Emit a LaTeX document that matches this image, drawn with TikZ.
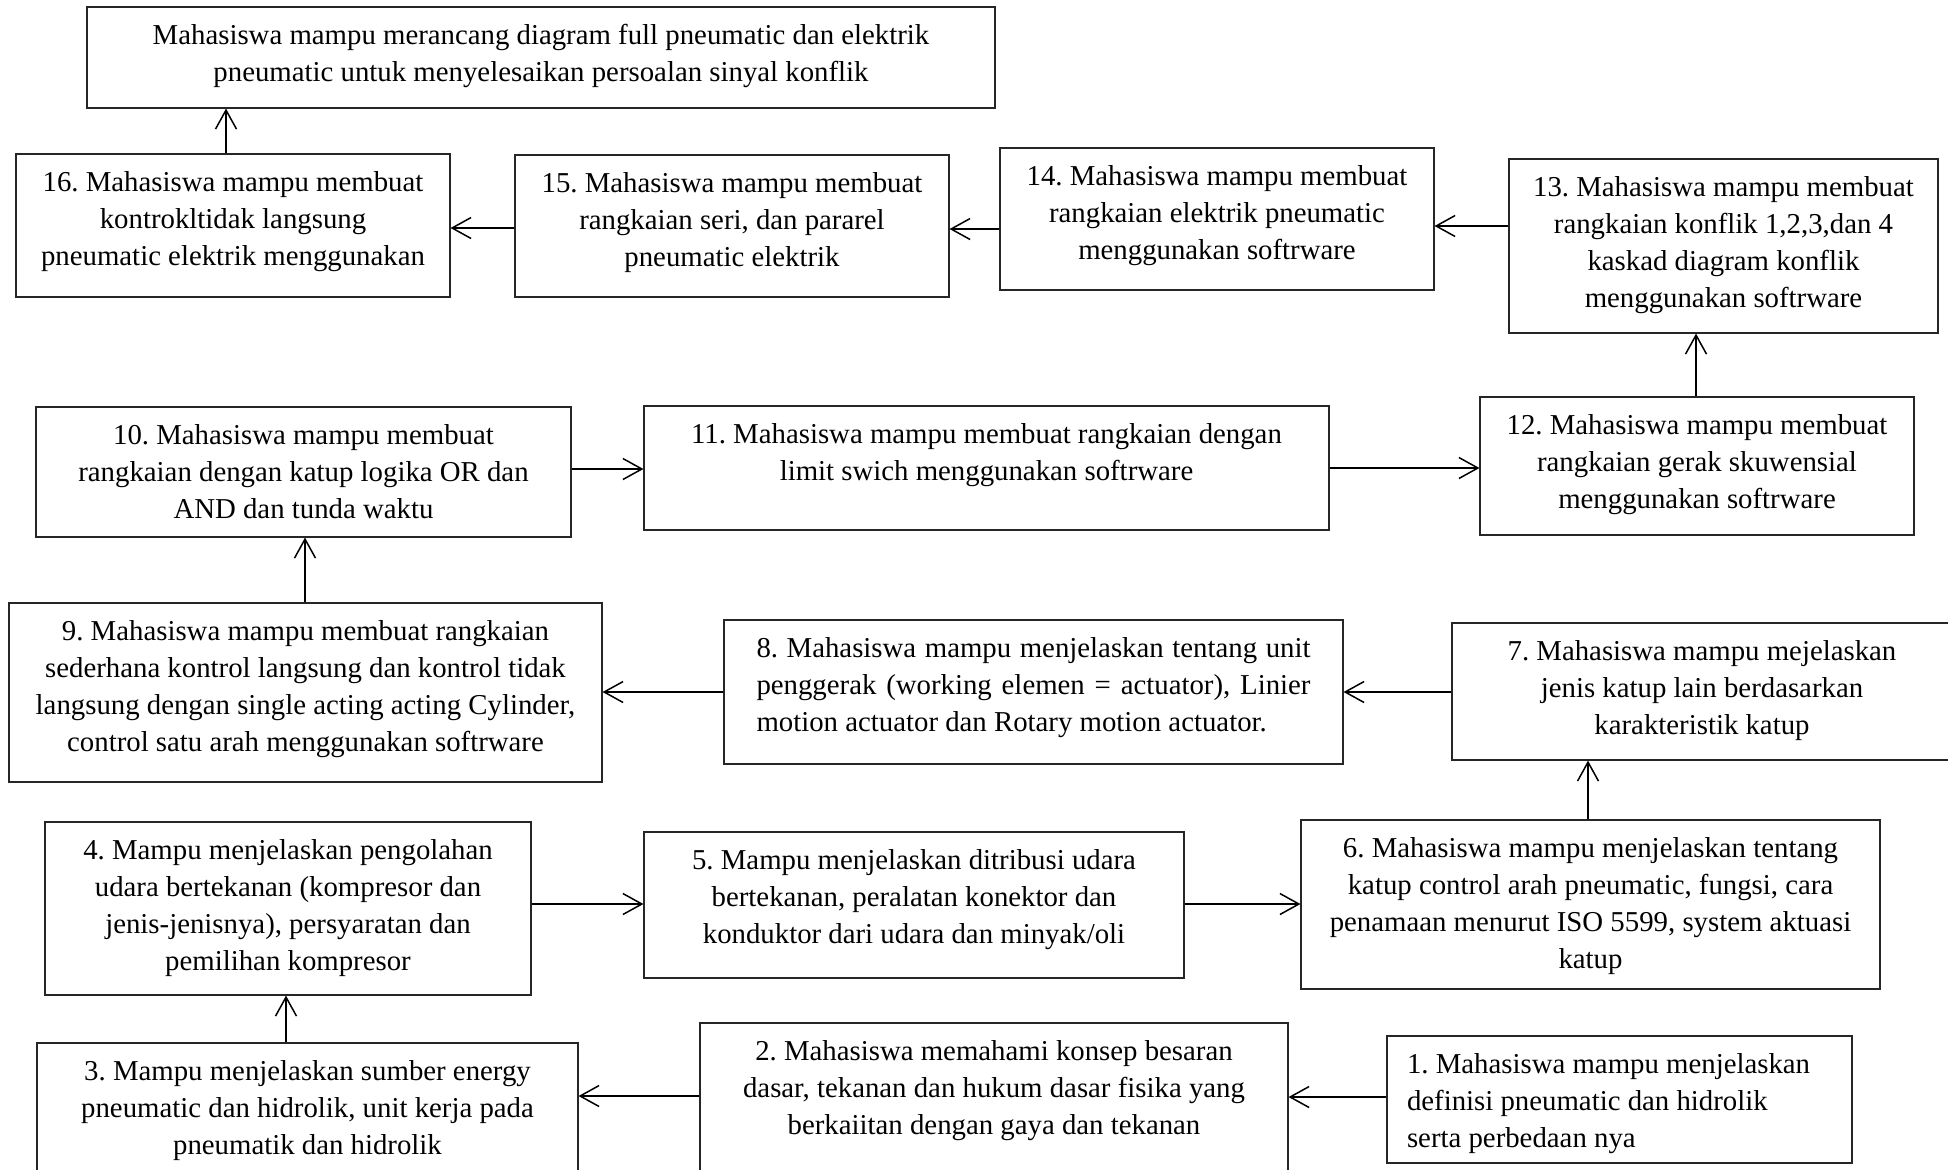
\documentclass[tikz,border=0pt]{standalone}
\usepackage{fontspec}
\setmainfont{Liberation Serif}
\usetikzlibrary{arrows.meta}
\frenchspacing

\tikzset{
  obox/.style={draw=black!85, line width=0.55pt, inner sep=0pt, fill=white,
    font=\fontsize{14.4}{18.5}\selectfont},
  flow/.style={line width=0.8pt,
    -{Straight Barb[length=9.5pt,width=10.5pt,line width=0.75pt]}},
}

% box: name, left, top, right, bottom (picture units), text lines
\newcommand\mkbox[6]{%
  \node[obox] (#1) at ({(#2+#4)/2},{(#3+#5)/2})
    {\parbox[c][\dimexpr(#5pt-#3pt)/2\relax][t]{\dimexpr(#4pt-#2pt)/2\relax}%
      {\frenchspacing\centering\rule{0pt}{18.6pt}#6\par}};}

\begin{document}
\begin{tikzpicture}[x=0.5pt,y=-0.5pt]
\useasboundingbox (0,0) rectangle (1948,1169);
\fill[white] (0,0) rectangle (1948,1169);
\clip (0,0) rectangle (1948,1169);

\mkbox{ntop}{87}{7}{995}{108}{Mahasiswa mampu merancang diagram full pneumatic dan elektrik\\pneumatic untuk menyelesaikan persoalan sinyal konflik}
\mkbox{n16}{16}{154}{450}{297}{16. Mahasiswa mampu membuat\\kontrokltidak langsung\\pneumatic elektrik menggunakan}
\mkbox{n15}{515}{155}{949}{297}{15. Mahasiswa mampu membuat\\rangkaian seri, dan pararel\\pneumatic elektrik}
\mkbox{n14}{1000}{148}{1434}{290}{14. Mahasiswa mampu membuat\\rangkaian elektrik pneumatic\\menggunakan softrware}
\mkbox{n13}{1509}{159}{1938}{333}{13. Mahasiswa mampu membuat\\rangkaian konflik 1,2,3,dan 4\\kaskad diagram konflik\\menggunakan softrware}

\mkbox{n10}{36}{407}{571}{537}{10. Mahasiswa mampu membuat\\rangkaian dengan katup logika OR dan\\AND dan tunda waktu}
\mkbox{n11}{644}{406}{1329}{530}{11. Mahasiswa mampu membuat rangkaian dengan\\limit swich menggunakan softrware}
\mkbox{n12}{1480}{397}{1914}{535}{12. Mahasiswa mampu membuat\\rangkaian gerak skuwensial\\menggunakan softrware}

\mkbox{n9}{9}{603}{602}{782}{9. Mahasiswa mampu membuat rangkaian\\sederhana kontrol langsung dan kontrol tidak\\langsung dengan single acting acting Cylinder,\\control satu arah menggunakan softrware}
\mkbox{n8}{724}{620}{1343}{764}{\makebox[277pt][s]{8. Mahasiswa mampu menjelaskan tentang unit}\\\makebox[277pt][s]{penggerak (working elemen = actuator), Linier}\\\makebox[277pt][l]{motion actuator dan Rotary motion actuator.}}
\mkbox{n7}{1452}{623}{1952}{760}{7. Mahasiswa mampu mejelaskan\\jenis katup lain berdasarkan\\karakteristik katup}

\mkbox{n4}{45}{822}{531}{995}{4. Mampu menjelaskan pengolahan\\udara bertekanan (kompresor dan\\jenis-jenisnya), persyaratan dan\\pemilihan kompresor}
\mkbox{n5}{644}{832}{1184}{978}{5. Mampu menjelaskan ditribusi udara\\bertekanan, peralatan konektor dan\\konduktor dari udara dan minyak/oli}
\mkbox{n6}{1301}{820}{1880}{989}{6. Mahasiswa mampu menjelaskan tentang\\katup control arah pneumatic, fungsi, cara\\penamaan menurut ISO 5599, system aktuasi\\katup}

\mkbox{n3}{37}{1043}{578}{1200}{3. Mampu menjelaskan sumber energy\\pneumatic dan hidrolik, unit kerja pada\\pneumatik dan hidrolik}
\mkbox{n2}{700}{1023}{1288}{1190}{2. Mahasiswa memahami konsep besaran\\dasar, tekanan dan hukum dasar fisika yang\\berkaiitan dengan gaya dan tekanan}
\mkbox{n1}{1387}{1036}{1852}{1163}{\makebox[212.5pt][l]{1. Mahasiswa mampu menjelaskan}\\\makebox[212.5pt][l]{definisi pneumatic dan hidrolik}\\\makebox[212.5pt][l]{serta perbedaan nya}}

% flow of the learning outcomes
\draw[flow] (n1.west |- 0,1097) -- (n2.east |- 0,1097);
\draw[flow] (n2.west |- 0,1096) -- (n3.east |- 0,1096);
\draw[flow] (n3.north -| 286,0) -- (n4.south -| 286,0);
\draw[flow] (n4.east |- 0,904) -- (n5.west |- 0,904);
\draw[flow] (n5.east |- 0,904) -- (n6.west |- 0,904);
\draw[flow] (n6.north -| 1588,0) -- (n7.south -| 1588,0);
\draw[flow] (n7.west |- 0,692) -- (n8.east |- 0,692);
\draw[flow] (n8.west |- 0,692) -- (n9.east |- 0,692);
\draw[flow] (n9.north -| 305,0) -- (n10.south -| 305,0);
\draw[flow] (n10.east |- 0,469) -- (n11.west |- 0,469);
\draw[flow] (n11.east |- 0,468) -- (n12.west |- 0,468);
\draw[flow] (n12.north -| 1696,0) -- (n13.south -| 1696,0);
\draw[flow] (n13.west |- 0,226) -- (n14.east |- 0,226);
\draw[flow] (n14.west |- 0,229) -- (n15.east |- 0,229);
\draw[flow] (n15.west |- 0,228) -- (n16.east |- 0,228);
\draw[flow] (n16.north -| 226,0) -- (ntop.south -| 226,0);
\end{tikzpicture}
\end{document}
